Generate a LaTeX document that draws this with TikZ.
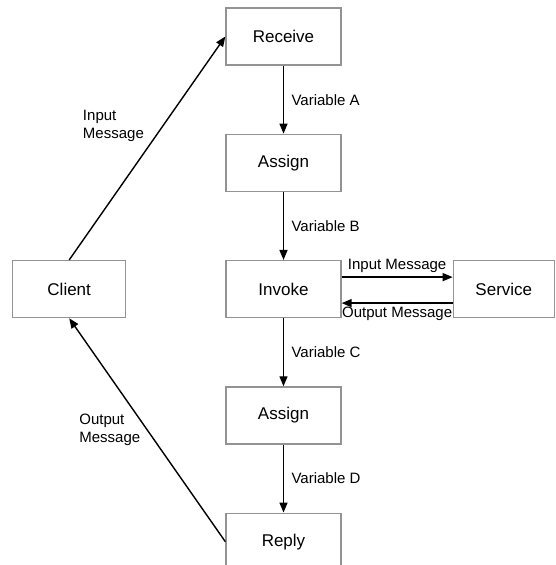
\documentclass[tikz,border=0pt]{standalone}
\usepackage{fontspec}
\setmainfont{Liberation Sans}
\usepackage{tikz}
\usetikzlibrary{arrows.meta, positioning}
\tikzset{
  block/.style={rectangle, draw=gray!85, line width=1.3pt, minimum width=115pt,
                minimum height=57pt, text centered, align=center,
                font=\fontsize{17}{20}\selectfont, fill=white},
  arrow/.style={-{Triangle[length=10pt, width=8pt]}, line width=1.4pt},
  note/.style={font=\fontsize{15}{17.5}\selectfont, align=left}
}

\begin{document}
\begin{tikzpicture}[x=1pt, y=1pt, node distance=68pt and 99pt]
    \useasboundingbox (0,0) rectangle (555,-565);
    \node[block] (receive) at (283.5,-36.5) {Receive};
    \node[block, below=of receive] (assign1) {Assign};
    \node[block, below=of assign1] (invoke) {Invoke};
    \node[block, below=of invoke] (assign2) {Assign};
    \node[block, below=of assign2] (reply) {Reply};
    \node[block, minimum width=113pt, left=of invoke] (client) {Client};
    \node[block, minimum width=101pt, right=111pt of invoke] (service) {Service};

    \draw[arrow] (receive) -- node[note, right=4pt]{Variable A} (assign1);
    \draw[arrow] (assign1) -- node[note, right=4pt]{Variable B} (invoke);
    \draw[arrow] (invoke) -- node[note, right=4pt]{Variable C} (assign2);
    \draw[arrow] (assign2) -- node[note, right=4pt]{Variable D} (reply);

    \draw[arrow] ([yshift=12pt]invoke.east) -- node[note, above=0pt]{Input Message} ([yshift=12pt]service.west);
    \draw[arrow] ([yshift=-14pt]service.west) -- node[note, below=0pt]{Output Message} ([yshift=-14pt]invoke.east);

    \draw[arrow] (client.north) -- node[note, pos=0.6, left=15pt]{Input\\Message} (receive.west);
    \draw[arrow] (reply.west) -- node[note, pos=0.5, left=3pt]{Output\\Message} (client.south);
\end{tikzpicture}
\end{document}
